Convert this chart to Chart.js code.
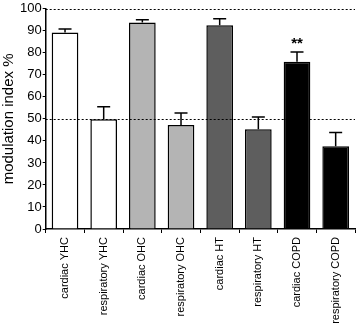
<!DOCTYPE html>
<html>
<head>
<meta charset="utf-8">
<script src="https://cdn.jsdelivr.net/npm/chart.js@4/dist/chart.umd.min.js"></script>
<style>
  html, body { margin: 0; padding: 0; background: #fff; }
  #wrap { width: 360px; height: 324px; }
</style>
</head>
<body>
<div id="wrap"><canvas id="chart" width="360" height="324"></canvas></div>
<script>
// data
const labels = ['cardiac YHC', 'respiratory YHC', 'cardiac OHC', 'respiratory OHC',
                'cardiac HT', 'respiratory HT', 'cardiac COPD', 'respiratory COPD'];
const means = [89.2, 49.8, 93.8, 47.2, 92.5, 45.3, 76.0, 37.6];
const sem = [1.6, 5.7, 1.2, 5.5, 3.0, 5.6, 4.4, 6.2];
const barColors = ['#ffffff', '#ffffff', '#b4b4b4', '#b4b4b4', '#5e5e5e', '#5e5e5e', '#000000', '#000000'];
const stars = ['', '', '', '', '', '', '**', ''];
const refLines = [50, 100];
const yTicks = [0, 10, 20, 30, 40, 50, 60, 70, 80, 90, 100];

// error bars, reference lines and significance stars
const extras = {
  id: 'extras',
  afterDatasetsDraw(chart) {
    const ctx = chart.ctx;
    const x = chart.scales.x;
    const y = chart.scales.y;
    const area = chart.chartArea;
    ctx.save();

    // error bars (upper only)
    ctx.strokeStyle = '#000';
    ctx.lineWidth = 1.5;
    means.forEach((m, i) => {
      const cx = x.getPixelForValue(i);
      const top = y.getPixelForValue(m + sem[i]);
      const base = y.getPixelForValue(m);
      ctx.beginPath();
      ctx.moveTo(cx, base);
      ctx.lineTo(cx, top);
      ctx.moveTo(cx - 6.5, top);
      ctx.lineTo(cx + 6.5, top);
      ctx.stroke();
    });

    // dotted lines
    ctx.lineWidth = 1;
    ctx.setLineDash([2, 2]);
    refLines.forEach(v => {
      const py = Math.round(y.getPixelForValue(v)) + 0.5;
      ctx.beginPath();
      ctx.moveTo(area.left, py);
      ctx.lineTo(area.right, py);
      ctx.stroke();
    });
    ctx.setLineDash([]);

    // stars
    ctx.fillStyle = '#000';
    ctx.font = 'bold 15px "Liberation Sans", Arial, sans-serif';
    ctx.textAlign = 'center';
    ctx.textBaseline = 'bottom';
    stars.forEach((s, i) => {
      if (!s) return;
      const cx = x.getPixelForValue(i);
      const top = y.getPixelForValue(means[i] + sem[i]);
      ctx.fillText(s, cx, top - 1);
    });
    ctx.restore();
  }
};

const ctx = document.getElementById('chart').getContext('2d');
const chart = new Chart(ctx, {
  type: 'bar',
  data: {
    labels: labels,
    datasets: [{
      data: means,
      backgroundColor: barColors,
      borderColor: '#000',
      borderWidth: 1.5,
      borderSkipped: 'bottom',
      barPercentage: 0.69,
      categoryPercentage: 1.0
    }]
  },
  options: {
    responsive: false,
    animation: false,
    layout: { padding: { top: 0, right: 5, left: 0, bottom: 0 } },
    plugins: {
      legend: { display: false },
      tooltip: { enabled: false }
    },
    scales: {
      x: {
        afterFit(axis) { axis.height = 95; },
        grid: { display: true, drawOnChartArea: false, drawTicks: true, tickLength: 4, color: '#000', lineWidth: 1 },
        border: { display: true, color: '#000', width: 1.5 },
        ticks: {
          color: '#000',
          minRotation: 90,
          maxRotation: 90,
          autoSkip: false,
          padding: 4,
          font: { family: '"Liberation Sans", Arial, sans-serif', size: 11 }
        }
      },
      y: {
        min: 0,
        max: 100,
        afterBuildTicks(axis) { axis.ticks = yTicks.map(v => ({ value: v })); },
        grid: { display: true, drawOnChartArea: false, drawTicks: true, tickLength: 3, color: '#000', lineWidth: 1 },
        border: { display: true, color: '#000', width: 1.5 },
        ticks: {
          color: '#000',
          padding: 1,
          font: { family: '"Liberation Sans", Arial, sans-serif', size: 13 }
        },
        title: {
          display: true,
          text: 'modulation index %',
          color: '#000',
          padding: { top: 0, bottom: 1 },
          font: { family: '"Liberation Sans", Arial, sans-serif', size: 15 }
        }
      }
    }
  },
  plugins: [extras]
});
</script>
</body>
</html>
